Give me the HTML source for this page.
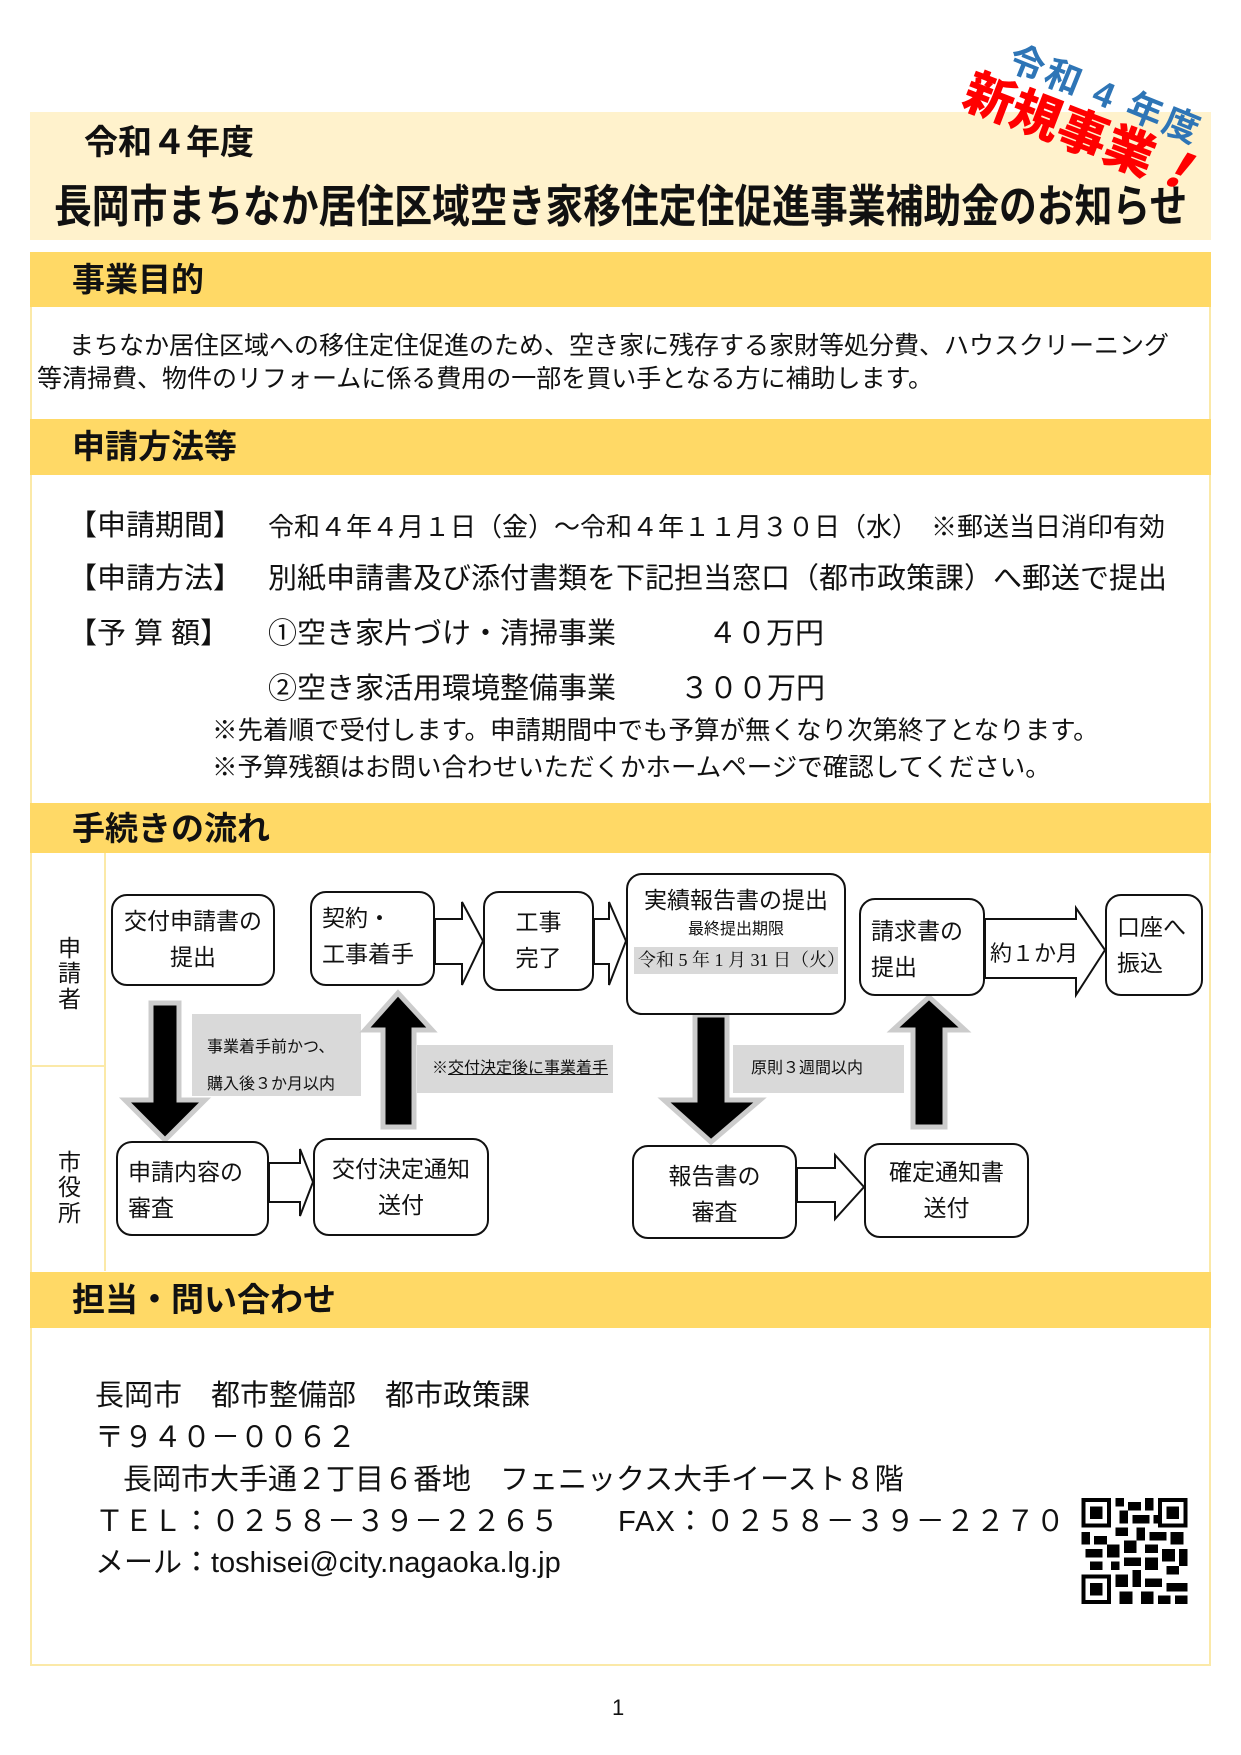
<!DOCTYPE html>
<html><head><meta charset="utf-8"><style>
*{margin:0;padding:0;box-sizing:border-box}
body{width:1241px;height:1755px;background:#fff;position:relative;overflow:hidden;font-family:"Liberation Sans","Noto Sans CJK JP",sans-serif;color:#111}
.a{position:absolute;white-space:nowrap;line-height:1}
.hd{position:absolute;left:30px;width:1181px;background:#ffd966}
.hd span{position:absolute;left:42px;font-size:33px;font-weight:bold;line-height:1}
.bx{position:absolute;border:2px solid #111;border-radius:16px;background:#fff;font-size:23px;line-height:1.55;padding:8px 10px}
.g{position:absolute;background:#d9d9d9;font-size:16px;line-height:1}
.t{font-size:26px}
.u{font-size:29px}
</style></head><body>
<div style="position:absolute;left:30px;top:112px;width:1181px;height:128px;background:#fff2cc"></div>
<div class="a" style="left:84px;top:126px;font-size:34px;font-weight:bold">令和４年度</div>
<div class="a" style="left:54px;top:184px;font-size:45px;font-weight:bold;transform:scaleX(0.84);transform-origin:left top">長岡市まちなか居住区域空き家移住定住促進事業補助金のお知らせ</div>
<div class="a" style="left:1017px;top:40px;font-size:36px;font-weight:bold;color:#2e75b6;transform:rotate(22deg);transform-origin:left top;letter-spacing:3px">令和 4 年度</div>
<div class="a" style="left:975px;top:66px;font-size:50px;font-weight:900;color:#f00;transform:rotate(21deg);transform-origin:left top">新規事業<span style="font-style:italic">！</span></div>

<div style="position:absolute;left:30px;top:252px;width:1181px;height:1414px;border:2px solid #fbe9a8;border-top:none"></div>

<div class="hd" style="top:252px;height:55px"><span style="top:11px">事業目的</span></div>
<div class="a" style="left:69px;top:334px;font-size:25px">まちなか居住区域への移住定住促進のため、空き家に残存する家財等処分費、ハウスクリーニング</div>
<div class="a" style="left:37px;top:367px;font-size:25px">等清掃費、物件のリフォームに係る費用の一部を買い手となる方に補助します。</div>

<div class="hd" style="top:419px;height:56px"><span style="top:11px">申請方法等</span></div>
<div class="a u" style="left:68px;top:512px">【申請期間】</div>
<div class="a t" style="left:268px;top:514px">令和４年４月１日（金）～令和４年１１月３０日（水）　※郵送当日消印有効</div>
<div class="a u" style="left:68px;top:565px">【申請方法】</div>
<div class="a u" style="left:268px;top:565px">別紙申請書及び添付書類を下記担当窓口（都市政策課）へ郵送で提出</div>
<div class="a u" style="left:68px;top:620px">【予 算 額】</div>
<div class="a u" style="left:268px;top:620px">①空き家片づけ・清掃事業</div>
<div class="a u" style="left:708px;top:620px">４０万円</div>
<div class="a u" style="left:268px;top:675px">②空き家活用環境整備事業</div>
<div class="a u" style="left:680px;top:675px">３００万円</div>
<div class="a" style="left:212px;top:719px;font-size:25.5px">※先着順で受付します。申請期間中でも予算が無くなり次第終了となります。</div>
<div class="a" style="left:212px;top:756px;font-size:25.5px">※予算残額はお問い合わせいただくかホームページで確認してください。</div>

<div class="hd" style="top:803px;height:50px"><span style="top:9px">手続きの流れ</span></div>
<div style="position:absolute;left:104px;top:853px;width:2px;height:418px;background:#fbe9a8"></div>
<div style="position:absolute;left:32px;top:1065px;width:72px;height:2px;background:#fbe9a8"></div>
<div class="a" style="left:58px;top:936px;font-size:23px;line-height:1.1;width:24px;white-space:normal">申請者</div>
<div class="a" style="left:58px;top:1150px;font-size:23px;line-height:1.1;width:24px;white-space:normal">市役所</div>

<div class="g" style="left:192px;top:1014px;width:169px;height:82px;padding:16px 0 0 15px;line-height:2.3">事業着手前かつ、<br>購入後３か月以内</div>
<div class="g" style="left:417px;top:1045px;width:196px;height:48px;padding:16px 0 0 15px">※<u>交付決定後に事業着手</u></div>
<div class="g" style="left:733px;top:1045px;width:171px;height:48px;padding:16px 0 0 18px">原則３週間以内</div>

<svg width="1241" height="1755" style="position:absolute;left:0;top:0">
<g fill="#fff" stroke="#111" stroke-width="2">
<polygon points="435,919 462,919 462,902 483,941 462,985 462,964 435,964"/>
<polygon points="594,919 609,919 609,902 626,941 609,985 609,964 594,964"/>
<polygon points="985,919 1076,919 1076,908 1105,950 1076,995 1076,978 985,978"/>
<polygon points="269,1163 300,1163 300,1149 313,1182 300,1216 300,1202 269,1202"/>
<polygon points="797,1168 835,1168 835,1155 864,1187 835,1219 835,1202 797,1202"/>
</g>
<g fill="#000" stroke="#ccc" stroke-width="5" stroke-linejoin="miter">
<polygon points="151,1003 179,1003 179,1100 205,1100 165,1140 125,1100 151,1100"/>
<polygon points="383,1127 414,1127 414,1030 432,1030 398,993 365,1030 383,1030"/>
<polygon points="695,1015 727,1015 727,1100 760,1100 711,1142 664,1100 695,1100"/>
<polygon points="913,1127 945,1127 945,1030 965,1030 929,997 893,1030 913,1030"/>
</g>
</svg>

<div class="bx" style="left:111px;top:894px;width:164px;height:92px;text-align:center">交付申請書の<br>提出</div>
<div class="bx" style="left:310px;top:891px;width:125px;height:95px">契約・<br>工事着手</div>
<div class="bx" style="left:483px;top:891px;width:111px;height:100px;text-align:center;padding-top:12px">工事<br>完了</div>
<div class="bx" style="left:626px;top:873px;width:220px;height:142px;text-align:center;padding:8px 6px">実績報告書の提出<div style="font-size:16px;line-height:1.4">最終提出期限</div><div style="background:#d9d9d9;font-size:18px;line-height:1.5;margin-top:6px;text-align:left;padding-left:4px;font-family:'Liberation Serif','Noto Serif CJK SC',serif">令和 5 年 1 月 31 日（火）</div></div>
<div class="bx" style="left:859px;top:898px;width:126px;height:98px;padding-top:14px">請求書の<br>提出</div>
<div class="a" style="left:990px;top:943px;font-size:22px">約１か月</div>
<div class="bx" style="left:1105px;top:894px;width:98px;height:102px;padding-top:14px">口座へ<br>振込</div>
<div class="bx" style="left:116px;top:1141px;width:153px;height:95px;padding-top:12px">申請内容の<br>審査</div>
<div class="bx" style="left:313px;top:1138px;width:176px;height:98px;text-align:center;padding-top:12px">交付決定通知<br>送付</div>
<div class="bx" style="left:632px;top:1145px;width:165px;height:94px;text-align:center;padding-top:12px">報告書の<br>審査</div>
<div class="bx" style="left:864px;top:1143px;width:165px;height:95px;text-align:center;padding-top:10px">確定通知書<br>送付</div>

<div class="hd" style="top:1272px;height:56px"><span style="top:11px">担当・問い合わせ</span></div>
<div class="a u" style="left:95px;top:1382px">長岡市　都市整備部　都市政策課</div>
<div class="a u" style="left:95px;top:1424px">〒９４０－００６２</div>
<div class="a u" style="left:123px;top:1466px">長岡市大手通２丁目６番地　フェニックス大手イースト８階</div>
<div class="a u" style="left:95px;top:1508px">ＴＥＬ：０２５８－３９－２２６５</div>
<div class="a u" style="left:618px;top:1508px;letter-spacing:1px">FAX：０２５８－３９－２２７０</div>
<div class="a u" style="left:95px;top:1549px">メール：toshisei@city.nagaoka.lg.jp</div>

<svg style="position:absolute;left:1081px;top:1498px" width="107" height="106" viewBox="0 0 25 25" shape-rendering="crispEdges">
<rect width="25" height="25" fill="#fff"/>
<g fill="#000">
<rect x="0" y="0" width="7" height="7"/><rect x="18" y="0" width="7" height="7"/><rect x="0" y="18" width="7" height="7"/>
</g>
<g fill="#fff"><rect x="1" y="1" width="5" height="5"/><rect x="19" y="1" width="5" height="5"/><rect x="1" y="19" width="5" height="5"/></g>
<g fill="#000"><rect x="2" y="2" width="3" height="3"/><rect x="20" y="2" width="3" height="3"/><rect x="2" y="20" width="3" height="3"/>
<path d="M8 0h2v2h-2zM11 1h3v2h-3zM15 0h2v3h-2zM9 3h2v3h-2zM12 4h4v2h-4zM8 7h3v2h-3zM13 7h2v3h-2zM16 8h4v2h-4zM21 8h3v3h-3zM0 8h2v3h-2zM3 9h3v2h-3zM1 12h4v2h-4zM6 11h3v3h-3zM10 10h3v3h-3zM15 11h3v2h-3zM19 12h3v3h-3zM23 12h2v4h-2zM2 15h3v2h-3zM7 15h2v2h-2zM10 14h4v2h-4zM15 14h3v3h-3zM20 16h3v2h-3zM8 18h3v3h-3zM12 17h2v4h-2zM15 19h4v2h-4zM20 20h5v2h-5zM9 22h3v3h-3zM14 22h3v3h-3zM18 23h3v2h-3zM22 23h3v2h-3zM17 4h1v2h-1z"/></g>
</svg>

<div class="a" style="left:612px;top:1697px;font-size:22px">1</div>
</body></html>
